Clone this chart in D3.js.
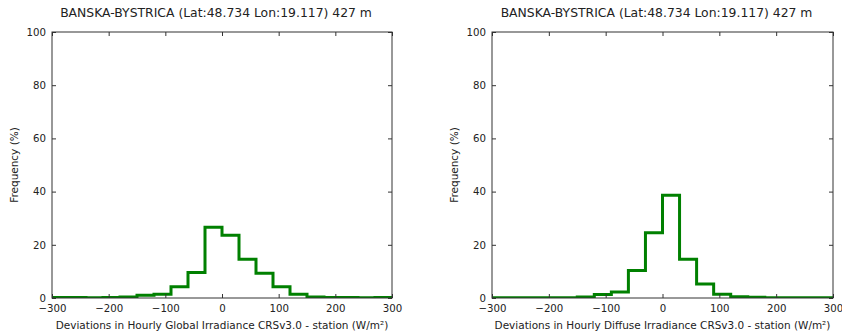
<!DOCTYPE html>
<html><head><meta charset="utf-8">
<script src="https://cdn.jsdelivr.net/npm/d3@7"></script>
<style>body{margin:0;background:#fff;} svg{display:block;font-family:"DejaVu Sans",sans-serif;}</style>
</head><body><svg id="c" width="842" height="335"></svg>
<script>
const binEdges = [-300,-270,-240,-210,-180,-150,-120,-90,-60,-30,0,30,60,90,120,150,180,210,240,270,300];
const globalFreq = [0.2,0.2,0.1,0.2,0.4,1.0,1.4,4.2,9.6,26.6,23.6,14.6,9.3,4.2,1.4,0.4,0.2,0.15,0.1,0.2];
const diffuseFreq = [0.05,0.05,0.05,0.05,0.05,0.4,1.3,2.3,10.3,24.5,38.6,14.6,5.3,1.4,0.5,0.25,0.05,0.05,0.05,0.05];
const xTicks = [-300,-200,-100,0,100,200,300];
const yTicks = [0,20,40,60,80,100];
const titleText = "BANSKA-BYSTRICA (Lat:48.734 Lon:19.117) 427 m";
const xLabels = ["Deviations in Hourly Global Irradiance CRSv3.0 - station (W/m²)",
                 "Deviations in Hourly Diffuse Irradiance CRSv3.0 - station (W/m²)"];
const yLabel = "Frequency (%)";

const svg = d3.select("#c");
const panels = [
  {x0:52, x1:392, data:globalFreq, xl:xLabels[0]},
  {x0:492, x1:833, data:diffuseFreq, xl:xLabels[1]}
];
const plotTop = 32, plotBottom = 298;
const fmt = d => d < 0 ? "\u2212" + Math.abs(d) : String(d);

function measure(txt, size) {
  const t = svg.append("text").style("font-size", size + "px").style("font-family","DejaVu Sans").text(txt);
  const w = t.node().getComputedTextLength();
  t.remove();
  return w;
}
const labelSize = Math.min(12, 12 * 333 / measure(xLabels[0], 12));
const titleSize = Math.min(14, 12 * 312 / measure(titleText, 12));
const tickSize = Math.min(12, 12 * 28 / measure("\u2212300", 12));

panels.forEach((p, idx) => {
  const x = d3.scaleLinear().domain([-300,300]).range([p.x0,p.x1]);
  const y = d3.scaleLinear().domain([0,100]).range([plotBottom,plotTop]);
  const g = svg.append("g");
  const cid = "clip"+idx;
  g.append("clipPath").attr("id",cid).append("rect")
    .attr("x",p.x0).attr("y",plotTop).attr("width",p.x1-p.x0).attr("height",plotBottom-plotTop);

  const pts = [[binEdges[0],0]];
  p.data.forEach((v,i)=>{ pts.push([binEdges[i],v]); pts.push([binEdges[i+1],v]); });
  pts.push([binEdges[binEdges.length-1],0]);
  g.append("path").attr("clip-path",`url(#${cid})`)
    .attr("d", d3.line().x(d=>x(d[0])).y(d=>y(d[1]))(pts))
    .attr("fill","none").attr("stroke","#008000").attr("stroke-width",3)
    .attr("stroke-linejoin","miter");

  const ax = d3.axisBottom(x).tickValues(xTicks).tickFormat(fmt).tickSizeInner(-4).tickSizeOuter(0).tickPadding(7);
  const axT = d3.axisTop(x).tickValues(xTicks).tickFormat("").tickSizeInner(-4).tickSizeOuter(0);
  const ay = d3.axisLeft(y).tickValues(yTicks).tickFormat(fmt).tickSizeInner(-4).tickSizeOuter(0).tickPadding(6);
  const ayR = d3.axisRight(y).tickValues(yTicks).tickFormat("").tickSizeInner(-4).tickSizeOuter(0);
  const gb = g.append("g").attr("transform",`translate(0,${plotBottom})`).call(ax);
  const gt = g.append("g").attr("transform",`translate(0,${plotTop})`).call(axT);
  const gl = g.append("g").attr("transform",`translate(${p.x0},0)`).call(ay);
  const gr = g.append("g").attr("transform",`translate(${p.x1},0)`).call(ayR);
  [gb,gt,gl,gr].forEach(a=>{
    a.select(".domain").remove();
    a.selectAll("line").attr("stroke","#333").attr("stroke-width",1);
    a.selectAll("text").attr("fill","#222").style("font-size",tickSize+"px").style("font-family","DejaVu Sans");
  });
  g.append("rect").attr("x",p.x0).attr("y",plotTop).attr("width",p.x1-p.x0).attr("height",plotBottom-plotTop)
    .attr("fill","none").attr("stroke","#333").attr("stroke-width",1);

  g.append("text").attr("x",(p.x0+p.x1)/2 - 6).attr("y",17).attr("text-anchor","middle")
    .attr("fill","#222").style("font-size",titleSize+"px").text(titleText);
  g.append("text").attr("x",(p.x0+p.x1)/2).attr("y",329).attr("text-anchor","middle")
    .attr("fill","#222").style("font-size",labelSize+"px").text(p.xl);
  g.append("text").attr("transform",`translate(${p.x0-34},${(plotTop+plotBottom)/2}) rotate(-90)`)
    .attr("text-anchor","middle").attr("fill","#222").style("font-size",labelSize+"px").text(yLabel);
});
</script></body></html>
